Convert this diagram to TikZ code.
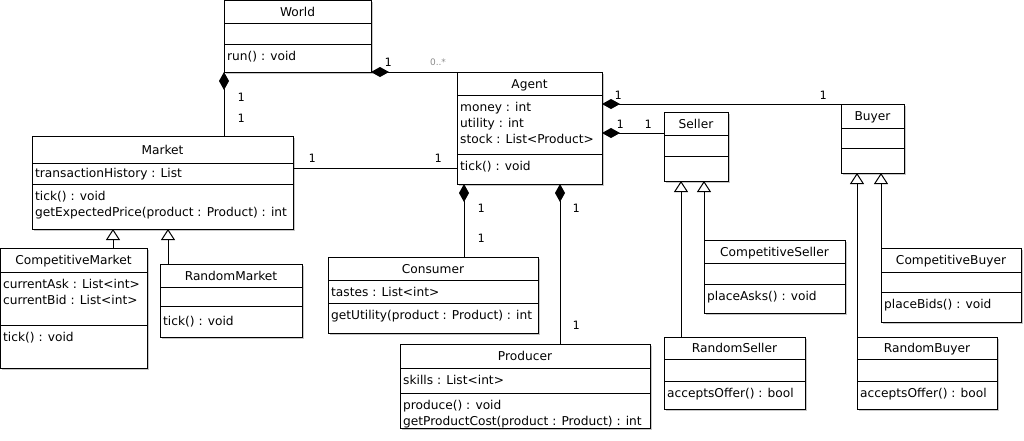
\documentclass[tikz,border=0pt]{standalone}
\usepackage{fontspec}
\setmainfont{DejaVu Sans}
\newfontfamily\multfont{DejaVu Sans Mono}
\usetikzlibrary{arrows.meta,shadows}
\tikzset{
  cls/.style={draw, fill=white, inner sep=0pt, outer sep=0pt, anchor=north west, line width=1pt,
    drop shadow={shadow xshift=2pt, shadow yshift=-2pt, fill=black!22, opacity=1}},
  sep/.style={line width=1pt},
  ttl/.style={inner sep=0pt, anchor=base, font=\fontsize{12.2}{14}\selectfont},
  memb/.style={inner sep=0pt, anchor=base west, font=\fontsize{12.2}{14}\selectfont},
  mult/.style={inner sep=0pt, font=\multfont\fontsize{11.5}{13}\selectfont},
  conn/.style={line width=1pt},
  comp/.style={conn, {Diamond[length=18pt,width=10pt]}-},
  inh/.style={conn, -{Triangle[open,length=11pt,width=14pt,fill=white]}},
}
% name, x1, y1, x2, y2, s1, s2, title
\newcommand{\umlclass}[8]{%
  \node[cls, minimum width={(#4-#2)*1pt}, minimum height={(#5-#3)*1pt}] (#1) at (#2,#3) {};
  \draw[sep] (#2,#6) -- (#4,#6);
  \draw[sep] (#2,#7) -- (#4,#7);
  \node[ttl] (#1-title) at ({(#2+#4)/2},{(#3+#6)/2+4.5}) {#8};
}
\newcommand{\mem}[4]{\node[memb] (#1) at (#2,#3) {#4};}
\begin{document}
\begin{tikzpicture}[x=1pt,y=-1pt]
\useasboundingbox (0,0) rectangle (1024,440);

% classes
\umlclass{world}{224}{0}{371}{72}{23}{44}{World}
\mem{world-o1}{227}{60}{run() : void}

\umlclass{agent}{457}{72}{602}{184}{95}{154}{Agent}
\mem{agent-a1}{460}{111}{money : int}
\mem{agent-a2}{460}{127}{utility : int}
\mem{agent-a3}{460}{143}{stock : List<Product>}
\mem{agent-o1}{460}{170}{tick() : void}

\umlclass{market}{32}{136}{293}{229}{163}{184}{Market}
\mem{market-a1}{35}{177}{transactionHistory : List}
\mem{market-o1}{35}{200}{tick() : void}
\mem{market-o2}{35}{216}{getExpectedPrice(product : Product) : int}

\umlclass{cmarket}{0}{248}{147}{368}{272}{325}{CompetitiveMarket}
\mem{cmarket-a1}{3}{288}{currentAsk : List<int>}
\mem{cmarket-a2}{3}{304}{currentBid : List<int>}
\mem{cmarket-o1}{3}{341}{tick() : void}

\umlclass{rmarket}{160}{264}{302}{337}{287}{306}{RandomMarket}
\mem{rmarket-o1}{163}{325}{tick() : void}

\umlclass{consumer}{328}{257}{538}{333}{280}{303}{Consumer}
\mem{consumer-a1}{331}{296}{tastes : List<int>}
\mem{consumer-o1}{331}{319}{getUtility(product : Product) : int}

\umlclass{producer}{400}{344}{650}{428}{368}{393}{Producer}
\mem{producer-a1}{403}{384}{skills : List<int>}
\mem{producer-o1}{403}{409}{produce() : void}
\mem{producer-o2}{403}{425}{getProductCost(product : Product) : int}

\umlclass{seller}{664}{112}{728}{181}{135}{156}{Seller}
\umlclass{buyer}{841}{104}{904}{173}{128}{148}{Buyer}

\umlclass{cseller}{704}{240}{845}{313}{263}{284}{CompetitiveSeller}
\mem{cseller-o1}{707}{300}{placeAsks() : void}

\umlclass{rseller}{664}{337}{805}{409}{359}{381}{RandomSeller}
\mem{rseller-o1}{667}{397}{acceptsOffer() : bool}

\umlclass{cbuyer}{881}{248}{1021}{322}{272}{292}{CompetitiveBuyer}
\mem{cbuyer-o1}{884}{308}{placeBids() : void}

\umlclass{rbuyer}{857}{337}{997}{409}{359}{381}{RandomBuyer}
\mem{rbuyer-o1}{860}{397}{acceptsOffer() : bool}

% compositions
\draw[comp] (world.south east) -- (agent.north west);
\draw[comp] (world.south west) -- (world.south west |- market.north);
\draw[comp] (agent.east |- buyer.north) -- (buyer.north west);
\draw[comp] (agent.east |- 0,133) -- (seller.west |- 0,133);
\draw[comp] (agent.south -| 464,0) -- (consumer.north -| 464,0);
\draw[comp] (agent.south -| 560,0) -- (producer.north -| 560,0);

% association
\draw[conn] (market.east |- 0,168) -- (agent.west |- 0,168);

% generalisations
\draw[inh] (cmarket.north -| 113,0) -- (market.south -| 113,0);
\draw[inh] (rmarket.north -| 168,0) -- (market.south -| 168,0);
\draw[inh] (rseller.north -| 681,0) -- (seller.south -| 681,0);
\draw[inh] (cseller.north west) -- (seller.south -| cseller.north west);
\draw[inh] (rbuyer.north west) -- (buyer.south -| rbuyer.north west);
\draw[inh] (cbuyer.north west) -- (buyer.south -| cbuyer.north west);

% multiplicities
\node[mult] (m1) at (388,62) {1};
\node[mult, text=black!45, font=\fontsize{9}{10}\selectfont] (m2) at (438,62) {0..*};
\node[mult] (m3) at (241,97) {1};
\node[mult] (m4) at (241,118) {1};
\node[mult] (m5) at (312,158) {1};
\node[mult] (m6) at (438,158) {1};
\node[mult] (m7) at (618,95) {1};
\node[mult] (m8) at (823,95) {1};
\node[mult] (m9) at (620,124) {1};
\node[mult] (m10) at (648,124) {1};
\node[mult] (m11) at (481,208) {1};
\node[mult] (m12) at (481,238) {1};
\node[mult] (m13) at (576,208) {1};
\node[mult] (m14) at (576,325) {1};
\end{tikzpicture}
\end{document}
